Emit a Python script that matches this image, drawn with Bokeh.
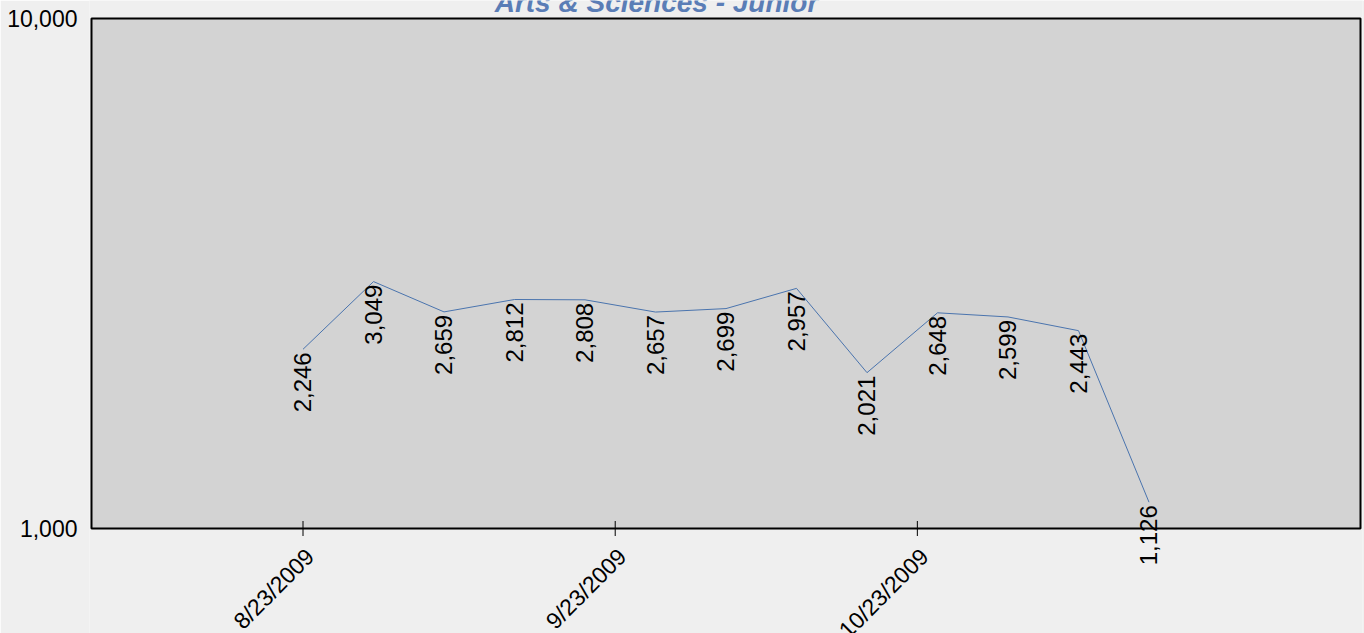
import numpy as np
import pandas as pd
from bokeh.plotting import figure
from bokeh.models import (ColumnDataSource, Label, LabelSet, FixedTicker,
                          NumeralTickFormatter, Range1d, BoxAnnotation)
from bokeh.embed import file_html
from bokeh.resources import INLINE
from bokeh.core.properties import value

# ---- data ----
dates = ["2009-08-23", "2009-08-30", "2009-09-06", "2009-09-13", "2009-09-20",
         "2009-09-27", "2009-10-04", "2009-10-11", "2009-10-18", "2009-10-25",
         "2009-11-01", "2009-11-08", "2009-11-15"]
counts = [2246, 3049, 2659, 2812, 2808, 2657, 2699, 2957, 2021, 2648, 2599, 2443, 1126]
tick_dates = ["2009-08-23", "2009-09-23", "2009-10-23"]
tick_labels = ["8/23/2009", "9/23/2009", "10/23/2009"]
y_ticks = [1000, 10000]
x_limits = ["2009-08-02", "2009-12-06"]
title_text = "Arts & Sciences - Junior"

FONT = "Liberation Sans"

def ms(d):
    return float(pd.Timestamp(d).value // 10**6)

xs = [ms(d) for d in dates]
src = ColumnDataSource(dict(x=xs, y=counts, label=[f"{c:,}" for c in counts]))
tick_src = ColumnDataSource(dict(x=[ms(d) for d in tick_dates],
                                 y=[y_ticks[0]] * len(tick_dates),
                                 label=tick_labels))

# ---- geometry (pixels) ----
W, H = 1364, 633
area_left, area_right = 91, 1360      # grey plot area
area_top, area_bottom = 18, 528
pad = 2                                # extra frame around the area
x0, x1 = ms(x_limits[0]), ms(x_limits[1])
px_per_ms = (area_right - area_left) / (x1 - x0)
y0, y1 = y_ticks[0], y_ticks[-1]
px_per_dec = (area_bottom - area_top) / (np.log10(y1) - np.log10(y0))

xr = Range1d(x0 - pad / px_per_ms, x1 + pad / px_per_ms)
yr = Range1d(10 ** (np.log10(y0) - (H - area_bottom) / px_per_dec),
             10 ** (np.log10(y1) + area_top / px_per_dec))

p = figure(width=W, height=H, x_axis_type="datetime", y_axis_type="log",
           x_range=xr, y_range=yr, x_axis_location=None,
           output_backend="svg", toolbar_location=None, title=None,
           min_border_left=area_left - pad, min_border_right=W - area_right - pad,
           min_border_top=0, min_border_bottom=0)

p.background_fill_color = "#efefef"
p.border_fill_color = "#efefef"
p.outline_line_color = None
p.xgrid.visible = False
p.ygrid.visible = False

# grey plot area with its frame
p.add_layout(BoxAnnotation(left=x0, right=x1, bottom=y0, top=y1,
                           fill_color="#d3d3d3", fill_alpha=1.0,
                           line_color="#000000", line_alpha=1.0, line_width=2,
                           level="underlay"))

# y axis
ya = p.yaxis[0]
ya.ticker = FixedTicker(ticks=y_ticks, minor_ticks=[])
ya.formatter = NumeralTickFormatter(format="0,0")
ya.major_tick_in = 0
ya.major_tick_out = 0
ya.minor_tick_in = 0
ya.minor_tick_out = 0
ya.axis_line_color = None
ya.major_label_standoff = 12
ya.major_label_text_font = FONT
ya.major_label_text_font_size = "23px"
ya.major_label_text_color = "#000000"

# x ticks and labels
p.scatter("x", "y", source=tick_src, marker="dash", size=15, angle=np.pi / 2,
          line_color="#000000", line_width=1)
p.add_layout(LabelSet(x="x", y="y", text="label", source=tick_src, angle=np.pi / 4,
                      text_align="right", text_baseline="middle",
                      x_offset=7, y_offset=-24,
                      text_font=value(FONT), text_font_size="23px", text_color="#000000"))

# series
p.line("x", "y", source=src, line_color="#4a74ae", line_width=1)
p.add_layout(LabelSet(x="x", y="y", text="label", source=src, angle=np.pi / 2,
                      text_align="right", text_baseline="middle", y_offset=-3,
                      text_font=value(FONT), text_font_size="24px", text_color="#000000"))

# title (its top is cut by the page edge, as in the original)
title_x = x0 + (656 - area_left) / px_per_ms
title_y = 10 ** (np.log10(y1) + (area_top - 2) / px_per_dec)
p.add_layout(Label(x=title_x, y=title_y, text=title_text, text_align="center",
                   text_baseline="alphabetic", text_font=FONT, text_font_size="28px",
                   text_font_style="bold italic", text_color="#5a7db6"))

open("out.html", "w").write(file_html(p, INLINE))
